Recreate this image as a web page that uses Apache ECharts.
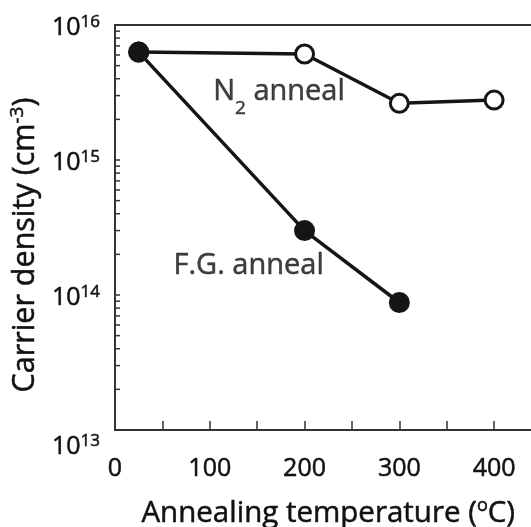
<!DOCTYPE html>
<html><head><meta charset="utf-8">
<script src="https://cdn.jsdelivr.net/npm/echarts@6/dist/echarts.min.js"></script>
<style>html,body{margin:0;padding:0;background:#fff}#c{width:531px;height:527px}</style>
</head><body><div id="c"></div>
<script>
// ---- data ----
const fgTemps = [25, 200, 300];
const fgDensity = [6.3e15, 3.0e14, 8.8e13];
const n2Temps = [25, 200, 300, 400];
const n2Density = [6.3e15, 6.1e15, 2.63e15, 2.78e15];
const xTickLabels = [0, 100, 200, 300, 400];
const yTickExponents = [13, 14, 15, 16];
const yMinorTicks = [2e13, 3e13, 4e13, 5e13, 6e13, 7e13, 8e13, 9e13,
                     2e14, 3e14, 4e14, 5e14, 6e14, 7e14, 8e14, 9e14,
                     2e15, 3e15, 4e15, 5e15, 6e15, 7e15, 8e15, 9e15];
const annotationNames = ['N2 anneal', 'F.G. anneal'];
const annotationX = [173, 141];
const annotationY = [3.2e15, 1.64e14];

// ---- chart ----
const FONT = '"Open Sans", "DejaVu Sans", sans-serif';
const INK = '#111';
const AX = '#333';
function ts(size, extra) {
  return Object.assign({fontSize: size, fontFamily: FONT, color: INK,
                        textBorderColor: INK, textBorderWidth: 0.5}, extra || {});
}
const chart = echarts.init(document.getElementById('c'), null, {renderer: 'canvas'});

const annotationRich = {
  'N2 anneal': '{t|N}{sub|2}{t| anneal}',
  'F.G. anneal': '{t|F.G. anneal}'
};

chart.setOption({
  animation: false,
  backgroundColor: '#fff',
  grid: {left: 115, top: 25, width: 426.5, height: 405, outerBoundsMode: 'none', containLabel: false,
         show: true, borderColor: AX, borderWidth: 2, backgroundColor: 'transparent'},
  xAxis: {
    type: 'value', min: 0, max: 450, interval: 50,
    axisLine: {show: true, onZero: false, lineStyle: {color: AX, width: 2}},
    axisTick: {show: true, inside: true, length: 9, lineStyle: {color: AX, width: 1.5}},
    splitLine: {show: false},
    axisLabel: ts(25, {
      margin: 26,
      formatter: v => xTickLabels.indexOf(v) >= 0 ? String(v) : ''
    }),
    name: '{t|Annealing temperature (}{sup|o}{t|C)}',
    nameLocation: 'middle', nameGap: 67,
    nameTextStyle: {
      rich: {
        t: ts(29.5, {lineHeight: 34}),
        sup: ts(18, {lineHeight: 20, verticalAlign: 'top'})
      }
    }
  },
  yAxis: {
    type: 'log', logBase: 10, min: 1e13, max: 1e16, splitNumber: 3,
    axisLine: {show: true, onZero: false, lineStyle: {color: AX, width: 2}},
    axisTick: {show: true, inside: true, length: 5, lineStyle: {color: AX, width: 1.5}},
    splitLine: {show: false},
    axisLabel: {
      margin: 15, padding: [6, 0, 0, 0],
      formatter: v => {
        const e = Math.round(Math.log10(v));
        if (yTickExponents.indexOf(e) < 0) return '';
        return (e === 13 ? '{gap| }\n' : '') + '{b|10}{s|' + e + '}';
      },
      rich: {
        b: ts(25, {lineHeight: 28}),
        s: ts(17, {lineHeight: 17, verticalAlign: 'top'}),
        gap: {fontSize: 10, lineHeight: 28}
      }
    },
    name: '{t|Carrier density (cm}{sup|-3}{t|)}',
    nameLocation: 'middle', nameGap: 73, nameRotate: 90,
    nameTextStyle: {
      padding: [0, 35, 0, 0],
      rich: {
        t: ts(30.5, {lineHeight: 34}),
        sup: ts(19, {lineHeight: 20, verticalAlign: 'top'})
      }
    }
  },
  series: [
    {
      type: 'custom', silent: true, z: 1,
      data: yMinorTicks.map(v => [0, v]),
      renderItem: (params, api) => {
        const p = api.coord([0, api.value(1)]);
        return {type: 'line', shape: {x1: p[0], y1: p[1], x2: p[0] + 5, y2: p[1]},
                style: {stroke: AX, lineWidth: 1.5}};
      }
    },
    {
      name: 'N2 anneal', type: 'line', z: 3,
      data: n2Temps.map((t, i) => [t, n2Density[i]]),
      symbol: 'circle', symbolSize: 18,
      lineStyle: {color: '#151515', width: 3.5},
      itemStyle: {color: '#fff', borderColor: '#151515', borderWidth: 3}
    },
    {
      name: 'F.G. anneal', type: 'line', z: 4,
      data: fgTemps.map((t, i) => [t, fgDensity[i]]),
      symbol: 'circle', symbolSize: 21,
      lineStyle: {color: '#151515', width: 3.5},
      itemStyle: {color: '#151515', borderWidth: 0}
    },
    {
      type: 'scatter', silent: true, z: 5,
      data: annotationNames.map((n, i) => ({name: n, value: [annotationX[i], annotationY[i]]})),
      symbolSize: 0,
      label: {
        show: true, position: 'inside',
        formatter: p => annotationRich[p.name],
        rich: {
          t: ts(29, {lineHeight: 36}),
          sub: ts(19, {lineHeight: 20, verticalAlign: 'bottom', padding: [0, 0, -8, 0]})
        }
      }
    }
  ]
});
</script>
</body></html>
